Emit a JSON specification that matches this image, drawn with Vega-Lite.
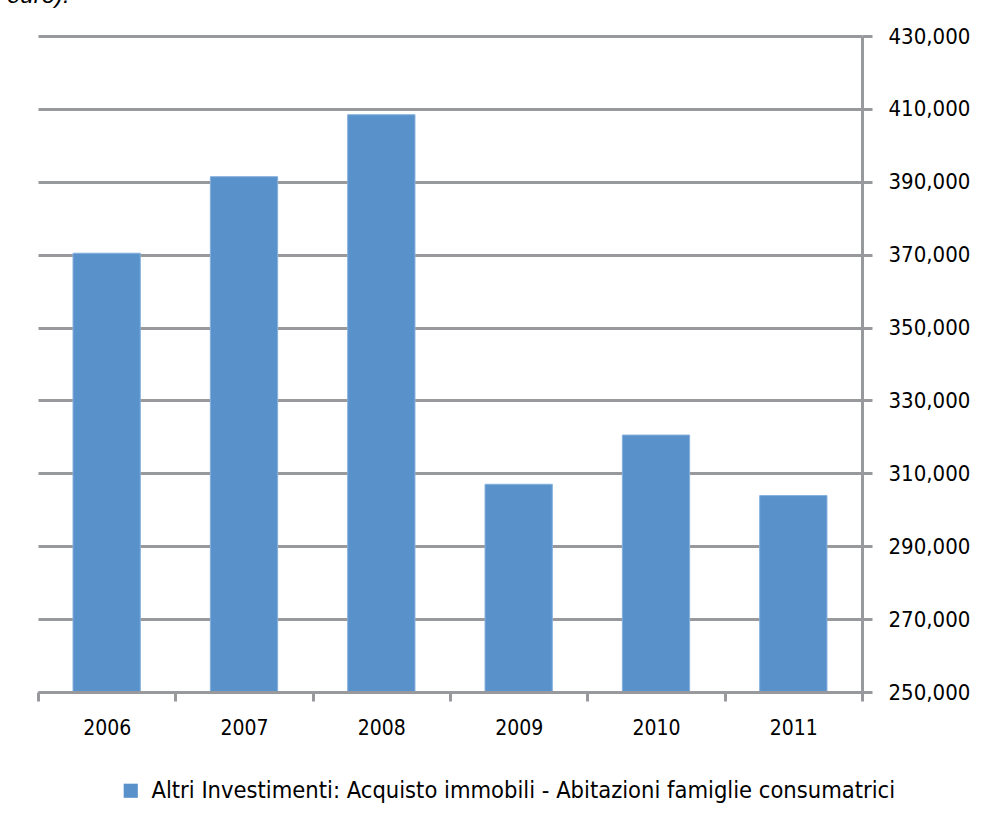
{
  "$schema": "https://vega.github.io/schema/vega-lite/v6.json",
  "width": 824,
  "height": 656,
  "autosize": {"type": "none"},
  "padding": {"left": 38, "top": 36, "right": 127, "bottom": 133},
  "background": "white",
  "title": {
    "text": "euro).",
    "anchor": "start",
    "frame": "group",
    "font": "Liberation Sans",
    "fontStyle": "italic",
    "fontWeight": "normal",
    "fontSize": 24,
    "color": "#000000",
    "baseline": "alphabetic",
    "offset": 10,
    "dy": 12,
    "dx": -31
  },
  "data": {
    "values": [
      {"anno": "2006", "valore": 370400, "serie": "Altri Investimenti: Acquisto immobili - Abitazioni famiglie consumatrici"},
      {"anno": "2007", "valore": 391400, "serie": "Altri Investimenti: Acquisto immobili - Abitazioni famiglie consumatrici"},
      {"anno": "2008", "valore": 408400, "serie": "Altri Investimenti: Acquisto immobili - Abitazioni famiglie consumatrici"},
      {"anno": "2009", "valore": 307000, "serie": "Altri Investimenti: Acquisto immobili - Abitazioni famiglie consumatrici"},
      {"anno": "2010", "valore": 320500, "serie": "Altri Investimenti: Acquisto immobili - Abitazioni famiglie consumatrici"},
      {"anno": "2011", "valore": 303900, "serie": "Altri Investimenti: Acquisto immobili - Abitazioni famiglie consumatrici"}
    ]
  },
  "mark": {"type": "bar", "stroke": "#86B0DD", "strokeWidth": 1, "clip": true, "width": {"band": 0.49}},
  "encoding": {
    "x": {
      "field": "anno",
      "type": "ordinal",
      "scale": {"paddingInner": 0, "paddingOuter": 0},
      "axis": {
        "title": null,
        "labelAngle": 0,
        "tickBand": "extent",
        "ticks": true,
        "tickColor": "#97999c",
        "tickWidth": 3,
        "tickSize": 9,
        "domainColor": "#97999c",
        "domainWidth": 3,
        "labelFont": "DejaVu Sans Condensed",
        "labelFontSize": 21,
        "labelColor": "#000000",
        "labelPadding": 16,
        "grid": false,
        "zindex": 1
      }
    },
    "y": {
      "field": "valore",
      "type": "quantitative",
      "scale": {"domain": [250000, 430000], "nice": false, "zero": false},
      "axis": {
        "orient": "right",
        "title": null,
        "values": [250000, 270000, 290000, 310000, 330000, 350000, 370000, 390000, 410000, 430000],
        "format": ",d",
        "grid": true,
        "gridColor": "#97999c",
        "gridWidth": 3,
        "domainColor": "#97999c",
        "domainWidth": 3,
        "tickColor": "#97999c",
        "tickWidth": 3,
        "tickSize": 10,
        "labelFont": "DejaVu Sans Condensed",
        "labelFontSize": 22,
        "labelColor": "#000000",
        "labelPadding": 16
      }
    },
    "color": {
      "field": "serie",
      "type": "nominal",
      "scale": {"range": ["#5992CB"]},
      "legend": {
        "title": null,
        "orient": "none",
        "legendX": 81,
        "legendY": 743,
        "symbolType": "square",
        "symbolSize": 200,
        "symbolStrokeWidth": 0,
        "labelFont": "DejaVu Sans Condensed",
        "labelFontSize": 23.5,
        "labelColor": "#000000",
        "labelLimit": 900,
        "labelOffset": 9
      }
    }
  },
  "config": {"view": {"stroke": null}}
}
